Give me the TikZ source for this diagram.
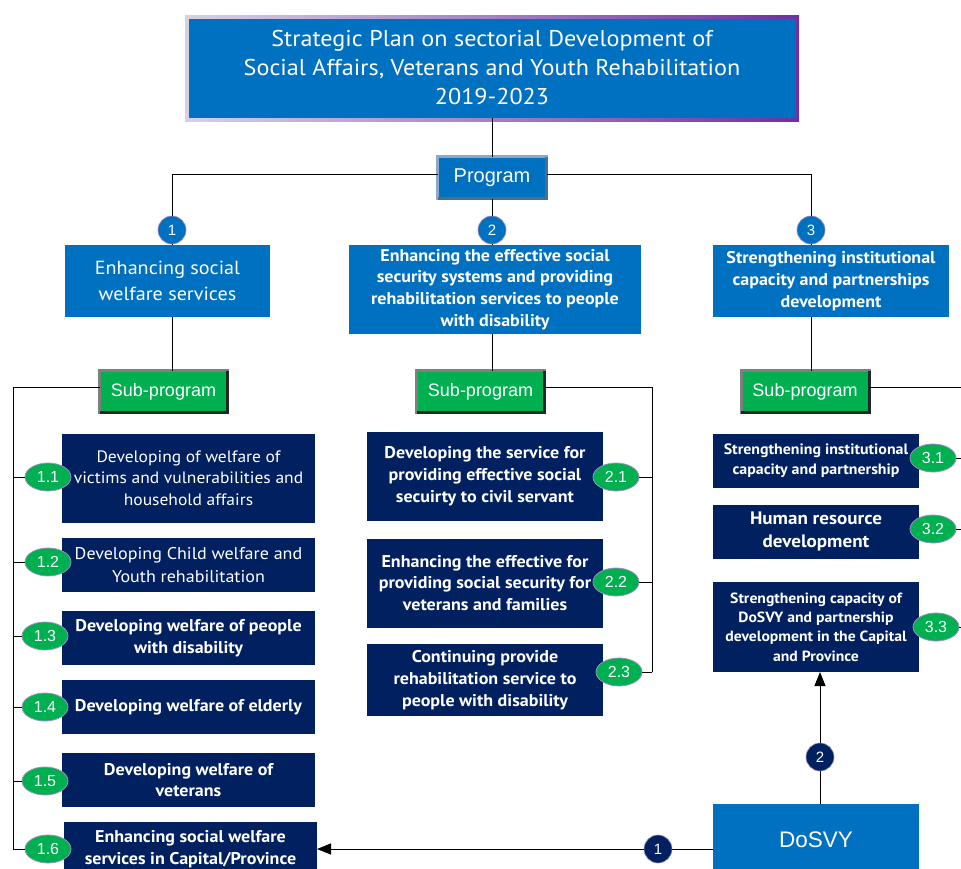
\documentclass[tikz,border=0pt]{standalone}
\usepackage{fontspec}
\setmainfont{Liberation Sans}
\newfontfamily\din[FakeStretch=1.06]{PT Sans}
\usetikzlibrary{shapes.geometric,arrows.meta,calc}
\definecolor{cblue}{HTML}{0070C0}
\definecolor{cnavy}{HTML}{002060}
\definecolor{cgreen}{HTML}{00B050}
\definecolor{cpurple}{HTML}{7030A0}
\definecolor{clav}{HTML}{D8D0E4}
\definecolor{pgborder}{HTML}{8EA9C8}
\definecolor{pgshadow}{HTML}{4F6D8A}
\definecolor{sgray}{HTML}{7F7F7F}
\definecolor{sdark}{HTML}{262626}
\definecolor{ovalline}{HTML}{9C8FBF}
\tikzset{
  box/.style={inner sep=0pt, outer sep=0pt, align=center, text=white},
  bluebox/.style={box, fill=cblue},
  navybox/.style={box, fill=cnavy, minimum width=253, minimum height=54},
  col2box/.style={box, fill=cnavy, minimum width=236, minimum height=89},
  col3box/.style={box, fill=cnavy, minimum width=206, minimum height=54},
  reg/.style={font=\din\fontsize{16.5}{21.5}\selectfont},
  bld/.style={font=\din\bfseries\fontsize{17}{21.7}\selectfont},
  subbox/.style={box, fill=cgreen, draw=sgray, line width=3pt, minimum width=128, minimum height=42,
     font=\fontsize{18}{20}\selectfont},
  numcirc/.style={circle, fill=cblue, draw=cpurple!60, line width=0.6pt, minimum size=28, inner sep=0pt,
     text=white, font=\fontsize{15}{16}\selectfont},
  navycirc/.style={numcirc, fill=cnavy, draw=ovalline},
  oval/.style={ellipse, fill=cgreen, draw=ovalline, line width=0.8pt, minimum width=46, minimum height=28,
     inner sep=0pt, text=white, font=\fontsize{16}{17}\selectfont},
  conn/.style={draw=black, line width=1pt},
  arr/.style={conn, -{Triangle[length=14pt,width=11pt]}},
}
\begin{document}
\begin{tikzpicture}[x=1pt,y=-1pt]
\useasboundingbox (0,0) rectangle (961,868);
\fill[white] (0,0) rectangle (961,868);

% title
\node[box, minimum width=614, minimum height=106, left color=clav, right color=cpurple] (tf) at (492,68) {};
\node[bluebox, minimum width=607, minimum height=99, font=\din\fontsize{22.8}{29}\selectfont] (title) at (tf)
  {Strategic Plan on sectorial Development of\\Social Affairs, Veterans and Youth Rehabilitation\\2019-2023};

% program
\node[bluebox, draw=pgborder, line width=3pt, minimum width=109, minimum height=42,
      font=\fontsize{20}{21}\selectfont] (prog) at (492,177.5) {Program};
\draw[pgshadow, line width=3pt] (prog.north east) -- (prog.south east) -- (prog.south west);

% program circles
\node[numcirc] (c1) at (172,230) {1};
\node[numcirc] (c2) at (492,230) {2};
\node[numcirc] (c3) at (811,230) {3};

% programs
\node[bluebox, minimum width=205, minimum height=72, font=\din\fontsize{19}{26}\selectfont] (p1) at (167.5,281)
  {Enhancing social\\welfare services};
\node[bluebox, bld, minimum width=292, minimum height=89] (p2) at (495,289.5)
  {Enhancing the effective social\\security systems and providing\\rehabilitation services to people\\with disability};
\node[bluebox, font=\din\bfseries\fontsize{17}{22}\selectfont, minimum width=236, minimum height=72] (p3) at (831,281)
  {Strengthening institutional\\capacity and partnerships\\development};

% sub-programs
\node[subbox] (s1) at (163.5,391.5) {Sub-program};
\node[subbox] (s2) at (480.5,391.5) {Sub-program};
\node[subbox] (s3) at (805,391.5) {Sub-program};
\foreach \s in {s1,s2,s3}{
  \draw[sdark, line width=3pt] (\s.north east) -- (\s.south east) -- (\s.south west);
}

% column 1 boxes
\node[navybox, reg, minimum height=89] (b11) at (188.5,478) {Developing of welfare of\\victims and vulnerabilities and\\household affairs};
\node[navybox, font=\din\fontsize{17}{23}\selectfont] (b12) at (188.5,565) {Developing Child welfare and\\Youth rehabilitation};
\node[navybox, bld] (b13) at (188.5,638) {Developing welfare of people\\with disability};
\node[navybox, bld] (b14) at (188.5,707) {Developing welfare of elderly};
\node[navybox, bld] (b15) at (188.5,780) {Developing welfare of\\veterans};
\node[navybox, bld] (b16) at (190.5,849) {Enhancing social welfare\\services in Capital/Province};

% column 2 boxes
\node[col2box, bld] (b21) at (485,476) {Developing the service for\\providing effective social\\secuirty to civil servant};
\node[col2box, bld] (b22) at (485,583) {Enhancing the effective for\\providing social security for\\veterans and families};
\node[col2box, bld, minimum height=72] (b23) at (485,680) {Continuing provide\\rehabilitation service to\\people with disability};

% column 3 boxes
\node[col3box, font=\din\bfseries\fontsize{15}{20}\selectfont] (b31) at (816,460.5) {Strengthening institutional\\capacity and partnership};
\node[col3box, font=\din\bfseries\fontsize{18}{23}\selectfont] (b32) at (816,531.5) {Human resource\\development};
\node[col3box, font=\din\bfseries\fontsize{14.8}{19.3}\selectfont, minimum height=90] (b33) at (816,627) {Strengthening capacity of\\DoSVY and partnership\\development in the Capital\\and Province};

% DoSVY
\node[bluebox, minimum width=206, minimum height=72, font=\fontsize{22.5}{24}\selectfont] (dos) at (816,840) {DoSVY};

% ovals
\node[oval] (o11) at (48,477) {1.1};
\node[oval] (o12) at (48,562) {1.2};
\node[oval] (o13) at (45,636) {1.3};
\node[oval] (o14) at (45,707) {1.4};
\node[oval] (o15) at (45,781) {1.5};
\node[oval] (o16) at (48,849) {1.6};
\node[oval] (o21) at (616,477) {2.1};
\node[oval] (o22) at (616,582) {2.2};
\node[oval] (o23) at (619,672) {2.3};
\node[oval] (o31) at (933,458) {3.1};
\node[oval] (o32) at (933,529) {3.2};
\node[oval] (o33) at (936,627) {3.3};

% DoSVY circles
\node[navycirc] (n1) at (658,849) {1};
\node[navycirc] (n2) at (820,757) {2};

% connectors: top
\draw[conn] (title.south) -- (prog.north);
\draw[conn] ([yshift=3.5pt]prog.west) -| (c1);
\draw[conn] ([yshift=3.5pt]prog.east) -| (c3);
\draw[conn] (prog.south) -- (c2);
\draw[conn] (c1) -- (c1 |- p1.north);
\draw[conn] (c2) -- (c2 |- p2.north);
\draw[conn] (c3) -- (c3 |- p3.north);
\draw[conn] (c1 |- p1.south) -- (c1 |- s1.north);
\draw[conn] (c2 |- p2.south) -- (c2 |- s2.north);
\draw[conn] (c3 |- p3.south) -- (c3 |- s3.north);

% column 1 bracket
\coordinate (L1) at (13,387);
\draw[conn] ([yshift=4.5pt]s1.west) -- (L1) -- (L1 |- o16);
\foreach \o in {o11,o12,o13,o14,o15,o16}{ \draw[conn] (L1 |- \o) -- (\o); }

% column 2 bracket
\coordinate (L2) at (652,387);
\draw[conn] ([yshift=4.5pt]s2.east) -- (L2) -- (L2 |- o23);
\foreach \o in {o21,o22,o23}{ \draw[conn] (L2 |- \o) -- (\o); }

% column 3 bracket (runs off the right edge)
\coordinate (L3) at (970,387);
\draw[conn] ([yshift=4.5pt]s3.east) -- (L3);
\foreach \o in {o31,o32,o33}{ \draw[conn] (\o) -- (L3 |- \o); }

% DoSVY arrows
\draw[conn] (n1 -| dos.west) -- (n1);
\draw[arr] (n1) -- (b16.east);
\draw[conn] (n2 |- dos.north) -- (n2);
\draw[arr] (n2) -- (n2 |- b33.south);
\end{tikzpicture}
\end{document}
